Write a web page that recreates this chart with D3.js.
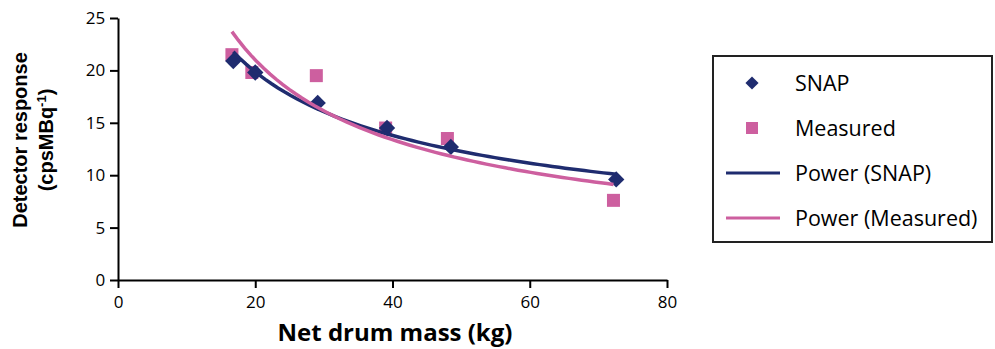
<!DOCTYPE html>
<html>
<head>
<meta charset="utf-8">
<script src="https://cdn.jsdelivr.net/npm/d3@7"></script>
<style>
  body { margin: 0; background: #fff; }
  svg { display: block; }
</style>
</head>
<body>
<svg width="995" height="349"></svg>
<script>
// values
var snapMass = [16.8, 20.0, 29.1, 39.2, 48.5, 72.6];
var snapResp = [20.9, 19.8, 16.9, 14.5, 12.7, 9.6];
var measMass = [16.6, 19.5, 28.9, 39.0, 48.0, 72.2];
var measResp = [21.5, 19.8, 19.5, 14.5, 13.5, 7.6];
var xTicks = [0, 20, 40, 60, 80];
var yTicks = [0, 5, 10, 15, 20, 25];
var legendNames = ["SNAP", "Measured", "Power (SNAP)", "Power (Measured)"];

var navy = "#1f2c6f", pink = "#cd5f9f";
var svg = d3.select("svg");

var x = d3.scaleLinear().domain([0, 80]).range([118, 667]);
var y = d3.scaleLinear().domain([0, 25]).range([280, 18]);

// excel-style power trendline: least squares on logs
function powerFit(xs, ys) {
  var lx = xs.map(Math.log), ly = ys.map(Math.log);
  var mx = d3.mean(lx), my = d3.mean(ly);
  var sxy = d3.sum(lx, (v, i) => (v - mx) * (ly[i] - my));
  var sxx = d3.sum(lx, v => (v - mx) * (v - mx));
  var b = sxy / sxx, a = Math.exp(my - b * mx);
  var lo = d3.min(xs), hi = d3.max(xs);
  var pts = [];
  for (var i = 0; i <= 60; i++) {
    var xv = lo + (hi - lo) * i / 60;
    pts.push([xv, a * Math.pow(xv, b)]);
  }
  return pts;
}

var line = d3.line().x(d => x(d[0])).y(d => y(d[1]));

// axes
var xAxis = svg.append("g").attr("transform", "translate(0,280)")
  .call(d3.axisBottom(x).tickValues(xTicks).tickSize(8).tickSizeOuter(0));
var yAxis = svg.append("g").attr("transform", "translate(118,0)")
  .call(d3.axisLeft(y).tickValues(yTicks).tickSize(8).tickSizeOuter(0));
[xAxis, yAxis].forEach(function(g) {
  g.select(".domain").attr("stroke", "#000").attr("stroke-width", 2);
  g.selectAll(".tick line").attr("stroke", "#000").attr("stroke-width", 2);
  g.selectAll("text").attr("font-family", "Open Sans, sans-serif")
    .attr("font-size", 17).attr("fill", "#000");
});
xAxis.selectAll("text").attr("dy", "1.0em");
yAxis.selectAll("text").attr("dx", "-0.1em");

// markers
var sq = 13;
svg.append("g").selectAll("rect").data(measMass).join("rect")
  .attr("x", (d, i) => x(d) - sq / 2)
  .attr("y", (d, i) => y(measResp[i]) - sq / 2)
  .attr("width", sq).attr("height", sq).attr("fill", pink);

var diamond = d3.symbol().type(d3.symbolDiamond2).size(170);
svg.append("g").selectAll("path").data(snapMass).join("path")
  .attr("d", diamond)
  .attr("transform", (d, i) => "translate(" + x(d) + "," + y(snapResp[i]) + ")")
  .attr("fill", navy);

// trendlines
svg.append("path").datum(powerFit(snapMass, snapResp))
  .attr("d", line).attr("fill", "none").attr("stroke", navy).attr("stroke-width", 3.5);
svg.append("path").datum(powerFit(measMass, measResp))
  .attr("d", line).attr("fill", "none").attr("stroke", pink).attr("stroke-width", 3.5);

// axis titles
svg.append("text").attr("x", 395).attr("y", 341).attr("text-anchor", "middle")
  .attr("font-family", "Open Sans, sans-serif").attr("font-weight", "bold")
  .attr("font-size", 24).text("Net drum mass (kg)");

var yt = svg.append("text").attr("transform", "translate(0,140) rotate(-90)")
  .attr("text-anchor", "middle").attr("font-family", "Liberation Sans, Arial, sans-serif")
  .attr("font-weight", "bold").attr("font-size", 20);
yt.append("tspan").attr("x", 0).attr("y", 27).text("Detector response");
var t2 = yt.append("tspan").attr("x", 0).attr("y", 53);
t2.append("tspan").text("(cpsMBq");
t2.append("tspan").attr("font-size", 13).attr("dy", -7).text("-1");
t2.append("tspan").attr("dy", 7).text(")");

// legend
var lg = svg.append("g");
lg.append("rect").attr("x", 713).attr("y", 56).attr("width", 279).attr("height", 186)
  .attr("fill", "#fff").attr("stroke", "#222").attr("stroke-width", 2);
var rowY = d3.scalePoint().domain(legendNames).range([83, 218]);
lg.append("path").attr("d", d3.symbol().type(d3.symbolDiamond2).size(110))
  .attr("transform", "translate(752," + rowY("SNAP") + ")").attr("fill", navy);
lg.append("rect").attr("x", 746).attr("y", rowY("Measured") - 6).attr("width", 12).attr("height", 12)
  .attr("fill", pink);
lg.append("line").attr("x1", 726).attr("x2", 780)
  .attr("y1", rowY("Power (SNAP)")).attr("y2", rowY("Power (SNAP)"))
  .attr("stroke", navy).attr("stroke-width", 3);
lg.append("line").attr("x1", 726).attr("x2", 780)
  .attr("y1", rowY("Power (Measured)")).attr("y2", rowY("Power (Measured)"))
  .attr("stroke", pink).attr("stroke-width", 3);
lg.selectAll("text.lab").data(legendNames).join("text").attr("class", "lab")
  .attr("x", 795).attr("y", d => rowY(d)).attr("dy", "0.35em")
  .attr("font-family", "Open Sans, sans-serif").attr("font-size", 21.5).text(d => d);
</script>
</body>
</html>
